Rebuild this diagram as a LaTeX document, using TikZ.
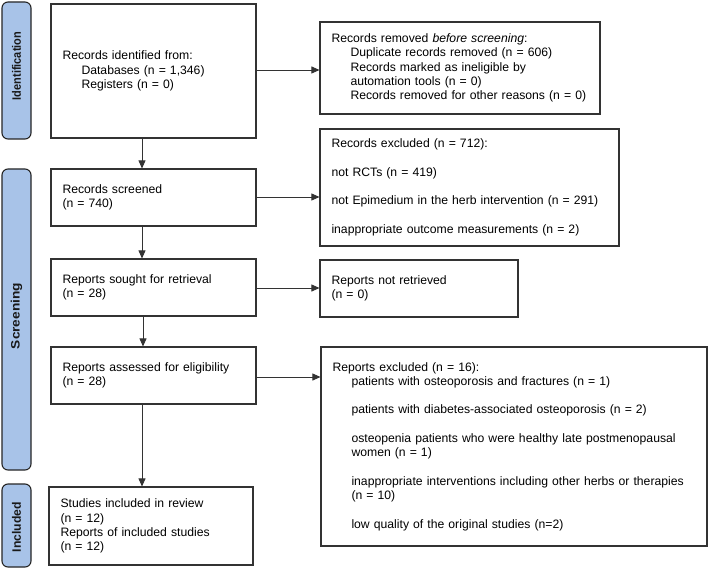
\documentclass[tikz,border=0pt]{standalone}
\usepackage{fontspec}
\setmainfont{Liberation Sans}
\usetikzlibrary{arrows.meta}
\definecolor{barfill}{HTML}{A8C3E8}
\definecolor{linecol}{HTML}{333333}
\tikzset{
  box/.style={draw=linecol, line width=1.1pt, rectangle, inner xsep=11.5pt, inner ysep=0pt,
    align=left, font=\fontsize{12.2}{14.3}\selectfont, anchor=center},
  bar/.style={draw=black!85, line width=1.1pt, fill=barfill, rounded corners=6pt},
  bartext/.style={rotate=90, font=\fontsize{12.2}{14}\selectfont\bfseries, text=black!90},
  arr/.style={draw=linecol, line width=0.8pt, -{Triangle[length=8pt,width=7pt]}}
}
\newcommand{\ind}{\hspace*{19pt}}
\newcommand{\boxnode}[6]{% name, x1, y1, x2, y2, text
  \node[box, minimum width={(#4-#2)*1pt}, minimum height={(#5-#3)*1pt},
        text width={(#4-#2)*1pt-23pt}] (#1) at ({(#2+#4)/2},{(#3+#5)/2}) {#6};}
\begin{document}
\begin{tikzpicture}[x=1pt,y=-1pt]
\useasboundingbox (0,0) rectangle (708,569);
\fill[white] (0,0) rectangle (708,569);

% side bars
\draw[bar] (2,2) rectangle (31,139);
\node[bartext] (lid) at (16.5,66) {\scalebox{0.9}[1]{Identification}};
\draw[bar] (2,169) rectangle (31,470);
\node[bartext] (lsc) at (16.5,316) {\scalebox{1.12}[1]{Screening}};
\draw[bar] (2,484) rectangle (31,567);
\node[bartext] (lin) at (16.5,527) {Included};

% boxes
\boxnode{A}{51}{4}{256}{138}{Records identified from:\\\ind Databases (n = 1,346)\\\ind Registers (n = 0)}
\boxnode{B}{320}{22}{600}{114}{Records removed \textit{before screening}:\\\ind Duplicate records removed (n = 606)\\\ind Records marked as ineligible by\\\ind automation tools (n = 0)\\\ind Records removed for other reasons (n = 0)}
\boxnode{C}{320}{129}{619}{246}{Records excluded (n = 712):\\[14.3pt]not RCTs (n = 419)\\[14.3pt]not Epimedium in the herb intervention (n = 291)\\[14.3pt]inappropriate outcome measurements (n = 2)}
\boxnode{D}{51}{169}{256}{226}{Records screened\\(n = 740)}
\boxnode{E}{51}{259}{256}{316}{Reports sought for retrieval\\(n = 28)}
\boxnode{F}{320}{260}{518}{317}{Reports not retrieved\\(n = 0)}
\boxnode{G}{51}{347}{256}{404}{Reports assessed for eligibility\\(n = 28)}
\boxnode{H}{321}{347}{707}{546}{Reports excluded (n = 16):\\\ind patients with osteoporosis and fractures (n = 1)\\[14.3pt]\ind patients with diabetes-associated osteoporosis (n = 2)\\[14.3pt]\ind osteopenia patients who were healthy late postmenopausal\\\ind women (n = 1)\\[14.3pt]\ind inappropriate interventions including other herbs or therapies\\\ind (n = 10)\\[14.3pt]\ind low quality of the original studies (n=2)}
\boxnode{I}{49}{487}{253}{565}{Studies included in review\\(n = 12)\\Reports of included studies\\(n = 12)}

% arrows
\draw[arr] (A.east |- 0,70) -- (B.west |- 0,70);
\draw[arr] (A.south -| 142,0) -- (D.north -| 142,0);
\draw[arr] (D.east |- 0,197) -- (C.west |- 0,197);
\draw[arr] (D.south -| 142,0) -- (E.north -| 142,0);
\draw[arr] (E.east |- 0,288) -- (F.west |- 0,288);
\draw[arr] (E.south -| 143,0) -- (G.north -| 143,0);
\draw[arr] (G.east |- 0,377) -- (H.west |- 0,377);
\draw[arr] (G.south -| 142,0) -- (I.north -| 142,0);
\end{tikzpicture}
\end{document}
